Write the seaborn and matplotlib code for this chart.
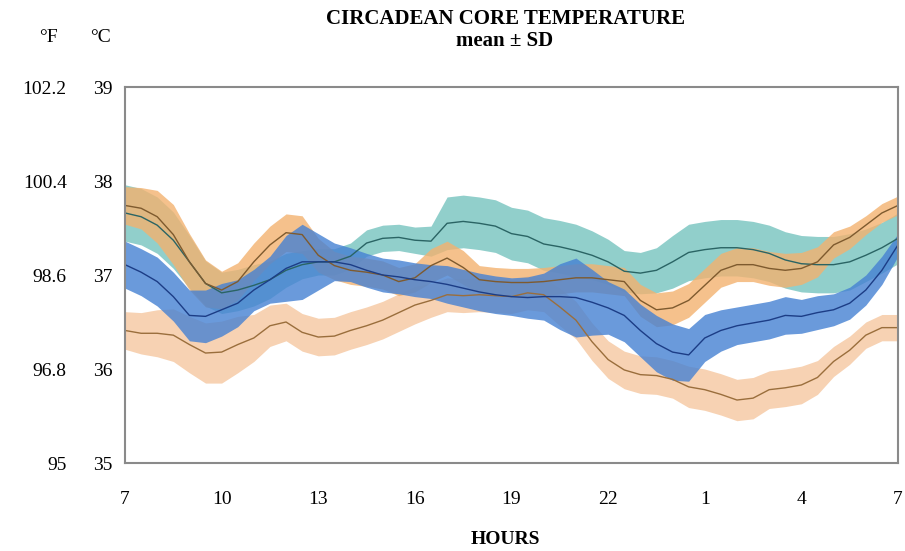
import numpy as np
import pandas as pd
import matplotlib
matplotlib.use("Agg")
import matplotlib.pyplot as plt
import seaborn as sns

# hours after 07:00, half-hour steps
hours = [0, 0.5, 1, 1.5, 2, 2.5, 3, 3.5, 4, 4.5, 5, 5.5, 6, 6.5, 7, 7.5, 8, 8.5,
         9, 9.5, 10, 10.5, 11, 11.5, 12, 12.5, 13, 13.5, 14, 14.5, 15, 15.5, 16,
         16.5, 17, 17.5, 18, 18.5, 19, 19.5, 20, 20.5, 21, 21.5, 22, 22.5, 23,
         23.5, 24]
hour_ticks = [0, 3, 6, 9, 12, 15, 18, 21, 24]
hour_labels = ["7", "10", "13", "16", "19", "22", "1", "4", "7"]
c_ticks = [35, 36, 37, 38, 39]
f_ticks = [95, 96.8, 98.6, 100.4, 102.2]

# upper orange subject
orange_hi_mean = [37.74, 37.71, 37.62, 37.43, 37.14, 36.91, 36.84, 36.93, 37.14, 37.32,
                  37.45, 37.43, 37.21, 37.10, 37.05, 37.03, 37.00, 36.93, 36.97, 37.10,
                  37.18, 37.08, 36.95, 36.93, 36.92, 36.92, 36.93, 36.95, 36.97, 36.97,
                  36.95, 36.93, 36.73, 36.63, 36.65, 36.73, 36.89, 37.05, 37.11, 37.11,
                  37.07, 37.05, 37.07, 37.14, 37.32, 37.40, 37.53, 37.66, 37.74]
orange_hi_sd = [0.20, 0.22, 0.28, 0.32, 0.30, 0.25, 0.20, 0.20, 0.20, 0.20,
                0.20, 0.20, 0.18, 0.15, 0.15, 0.15, 0.15, 0.15, 0.15, 0.18,
                0.18, 0.18, 0.15, 0.15, 0.15, 0.15, 0.15, 0.15, 0.15, 0.15,
                0.15, 0.15, 0.17, 0.18, 0.18, 0.18, 0.18, 0.18, 0.18, 0.18,
                0.18, 0.18, 0.17, 0.16, 0.14, 0.12, 0.10, 0.10, 0.10]

# teal subject
teal_mean = [37.66, 37.62, 37.53, 37.37, 37.14, 36.91, 36.81, 36.84, 36.89, 36.95,
             37.05, 37.11, 37.14, 37.14, 37.20, 37.34, 37.39, 37.40, 37.37, 37.36,
             37.55, 37.57, 37.55, 37.52, 37.44, 37.41, 37.33, 37.30, 37.26, 37.21,
             37.14, 37.04, 37.02, 37.05, 37.14, 37.24, 37.27, 37.29, 37.29, 37.27,
             37.23, 37.16, 37.12, 37.11, 37.11, 37.14, 37.21, 37.29, 37.39]
teal_sd = [0.30, 0.30, 0.30, 0.30, 0.28, 0.24, 0.22, 0.22, 0.22, 0.20,
           0.18, 0.15, 0.14, 0.14, 0.14, 0.14, 0.14, 0.14, 0.14, 0.16,
           0.28, 0.28, 0.28, 0.28, 0.28, 0.28, 0.28, 0.28, 0.28, 0.26,
           0.24, 0.22, 0.22, 0.24, 0.28, 0.30, 0.30, 0.30, 0.30, 0.30,
           0.30, 0.30, 0.30, 0.30, 0.30, 0.30, 0.28, 0.27, 0.27]

# blue subject
blue_mean = [37.11, 37.03, 36.93, 36.77, 36.57, 36.56, 36.63, 36.70, 36.84, 36.95,
             37.07, 37.14, 37.14, 37.14, 37.11, 37.05, 37.00, 36.98, 36.95, 36.93,
             36.90, 36.86, 36.82, 36.79, 36.77, 36.76, 36.77, 36.77, 36.76, 36.71,
             36.65, 36.57, 36.41, 36.27, 36.18, 36.15, 36.33, 36.41, 36.46, 36.49,
             36.52, 36.57, 36.56, 36.60, 36.63, 36.70, 36.84, 37.05, 37.32]
blue_sd = [0.25, 0.25, 0.26, 0.26, 0.27, 0.28, 0.28, 0.25, 0.22, 0.25,
           0.35, 0.40, 0.30, 0.20, 0.18, 0.18, 0.18, 0.18, 0.18, 0.18,
           0.20, 0.20, 0.20, 0.20, 0.20, 0.22, 0.25, 0.35, 0.42, 0.35,
           0.28, 0.28, 0.28, 0.30, 0.30, 0.28, 0.25, 0.22, 0.20, 0.20,
           0.20, 0.20, 0.18, 0.18, 0.17, 0.17, 0.16, 0.15, 0.12]

# lower orange subject
orange_lo_mean = [36.41, 36.38, 36.38, 36.36, 36.26, 36.17, 36.18, 36.26, 36.33, 36.46,
                  36.50, 36.39, 36.34, 36.35, 36.41, 36.46, 36.52, 36.60, 36.68, 36.73,
                  36.79, 36.78, 36.79, 36.78, 36.77, 36.81, 36.79, 36.66, 36.52, 36.29,
                  36.10, 35.99, 35.94, 35.93, 35.89, 35.81, 35.78, 35.73, 35.67, 35.69,
                  35.78, 35.80, 35.83, 35.91, 36.08, 36.20, 36.36, 36.44, 36.44]
orange_lo_sd = [0.20, 0.22, 0.25, 0.28, 0.30, 0.32, 0.33, 0.30, 0.25, 0.22,
                0.20, 0.20, 0.20, 0.20, 0.20, 0.20, 0.20, 0.20, 0.20, 0.18,
                0.18, 0.18, 0.18, 0.18, 0.18, 0.18, 0.18, 0.20, 0.20, 0.20,
                0.20, 0.20, 0.20, 0.20, 0.20, 0.22, 0.22, 0.22, 0.22, 0.22,
                0.20, 0.20, 0.20, 0.18, 0.16, 0.15, 0.14, 0.14, 0.14]

series = [
    ("lower", orange_lo_mean, orange_lo_sd, "#f5c7a0", "#9a6e3c"),
    ("teal", teal_mean, teal_sd, "#76c3bf", "#2a6464"),
    ("upper", orange_hi_mean, orange_hi_sd, "#f3b26f", "#7e5a2e"),
    ("blue", blue_mean, blue_sd, "#4581d3", "#1c3d86"),
]

sns.set_style("white")
plt.rcParams["font.family"] = ["Liberation Serif", "DejaVu Serif"]
plt.rcParams["text.color"] = "black"

fig = plt.figure(figsize=(9.05, 5.51), dpi=100)
ax = fig.add_axes([125 / 905, 1 - 463 / 551, 773 / 905, 376 / 551])

for name, m, s, band, line in series:
    m = np.array(m)
    s = np.array(s)
    ax.fill_between(hours, m - s, m + s, color=band, alpha=0.8, lw=0)
for name, m, s, band, line in series:
    df = pd.DataFrame({"hour": hours, "temp": m})
    sns.lineplot(data=df, x="hour", y="temp", ax=ax, color=line, lw=1.0)

ax.set_xlim(0, 24)
ax.set_ylim(35, 39)
ax.set_xticks(hour_ticks)
ax.set_xticklabels(hour_labels)
ax.set_yticks(c_ticks)
ax.set_yticklabels([str(c) for c in c_ticks])
ax.set_xlabel("")
ax.set_ylabel("")
ax.tick_params(axis="x", direction="in", length=8, width=1.2, color="#888888",
               labelsize=14, pad=20, labelcolor="black")
ax.tick_params(axis="y", direction="in", length=6, width=1.2, color="#888888",
               labelsize=14, pad=9, labelcolor="black")
for sp in ax.spines.values():
    sp.set_color("#8a8a8a")
    sp.set_linewidth(1.5)

# Fahrenheit scale on the far left
sec = ax.secondary_yaxis("left", functions=(lambda c: c * 9 / 5 + 32,
                                            lambda f: (f - 32) * 5 / 9))
sec.set_yticks(f_ticks)
sec.set_yticklabels(["95", "96.8", "98.6", "100.4", "102.2"])
sec.tick_params(length=0, labelsize=14, pad=42, labelcolor="black")
sec.spines["left"].set_visible(False)

fig.text(505 / 905, 1 - 19 / 551, "CIRCADEAN CORE TEMPERATURE", ha="center",
         va="center", fontsize=15, fontweight="bold")
fig.text(505 / 905, 1 - 41 / 551, "mean ± SD", ha="center", va="center",
         fontsize=15, fontweight="bold")
fig.text(48 / 905, 1 - 37 / 551, "°F", ha="center", va="center", fontsize=14)
fig.text(100 / 905, 1 - 37 / 551, "°C", ha="center", va="center", fontsize=14)
fig.text(505 / 905, 1 - 540 / 551, "HOURS", ha="center", va="center",
         fontsize=14, fontweight="bold")

fig.savefig("out.png", dpi=100)
